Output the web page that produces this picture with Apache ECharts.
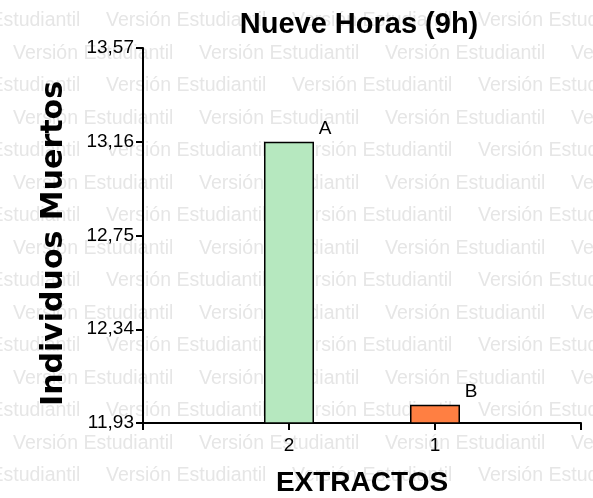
<!DOCTYPE html>
<html><head><meta charset="utf-8">
<script src="https://cdn.jsdelivr.net/npm/echarts@6/dist/echarts.min.js"></script>
<style>html,body{margin:0;padding:0;background:#fff}#c{width:593px;height:498px}</style>
</head><body><div id="c"></div>
<script>
const categories = ['2', '1'];
const values = [13.16, 12.01];
const letters = ['A', 'B'];
const yTicks = [11.93, 12.34, 12.75, 13.16, 13.57];
const titleText = 'Nueve Horas (9h)';
const xName = 'EXTRACTOS';
const yName = 'Individuos Muertos';
const watermark = 'Versión Estudiantil';
const colors = ['#b6e8bf', '#ff7f42'];

const xData = [''].concat(categories, ['']);
const seriesData = [null].concat(values.map((v, i) => ({
  value: v,
  itemStyle: { color: colors[i] },
  label: { formatter: letters[i] }
})), [null]);

const wm = [];
for (let r = 0; r < 15; r++) {
  const start = r % 2 === 0 ? -80 : 13;
  for (let k = 0; k < 5; k++) {
    const x = start + 186 * k;
    if (x > 593) continue;
    wm.push({
      type: 'text', x: x, y: 21 + 32.5 * r, z: -100, silent: true,
      style: { text: watermark, fill: '#e6e6e6', fontSize: 19.5,
        fontFamily: 'Liberation Sans', verticalAlign: 'middle', align: 'left' }
    });
  }
}

const chart = echarts.init(document.getElementById('c'), null, { renderer: 'canvas' });
chart.setOption({
  animation: false,
  backgroundColor: '#fff',
  title: {
    text: titleText, left: 354, top: 5, textAlign: 'center',
    textStyle: { fontFamily: 'Liberation Sans', fontWeight: 'bold', fontSize: 29, color: '#000' }
  },
  graphic: wm,
  grid: { left: 143, right: 12, top: 48, bottom: 75, containLabel: false, outerBoundsMode: 'none' },
  xAxis: {
    type: 'category', data: xData, boundaryGap: false,
    name: xName, nameLocation: 'middle', nameGap: 46,
    nameTextStyle: { fontFamily: 'Liberation Sans', fontWeight: 'bold', fontSize: 28, color: '#000' },
    axisLine: { lineStyle: { color: '#000', width: 2 } },
    axisTick: { show: true, length: 7, lineStyle: { color: '#000', width: 2 }, alignWithLabel: true },
    axisLabel: { interval: 0, margin: 13, fontFamily: 'Liberation Sans', fontSize: 19, color: '#000' },
    splitLine: { show: false }
  },
  yAxis: {
    type: 'value', min: yTicks[0], max: yTicks[yTicks.length - 1],
    name: yName, nameLocation: 'middle', nameGap: 74, nameRotate: 90,
    nameTextStyle: { fontFamily: 'DejaVu Sans', fontWeight: 'bold', fontSize: 30, color: '#000',
      padding: [0, 16, 0, 0] },
    axisLine: { show: true, lineStyle: { color: '#000', width: 2 } },
    axisTick: { show: true, length: 7, lineStyle: { color: '#000', width: 2 }, customValues: yTicks },
    axisLabel: { margin: 9, fontFamily: 'Liberation Sans', fontSize: 19, color: '#000',
      customValues: yTicks,
      formatter: v => v.toFixed(2).replace('.', ',') },
    splitLine: { show: false }
  },
  series: [{
    type: 'bar', data: seriesData, barWidth: 50, z: 2,
    itemStyle: { borderColor: '#000', borderWidth: 1.5 },
    label: { show: true, position: 'top', offset: [36, 0], distance: 3,
      fontFamily: 'Liberation Sans', fontSize: 19, color: '#000' }
  }]
});
</script></body></html>
